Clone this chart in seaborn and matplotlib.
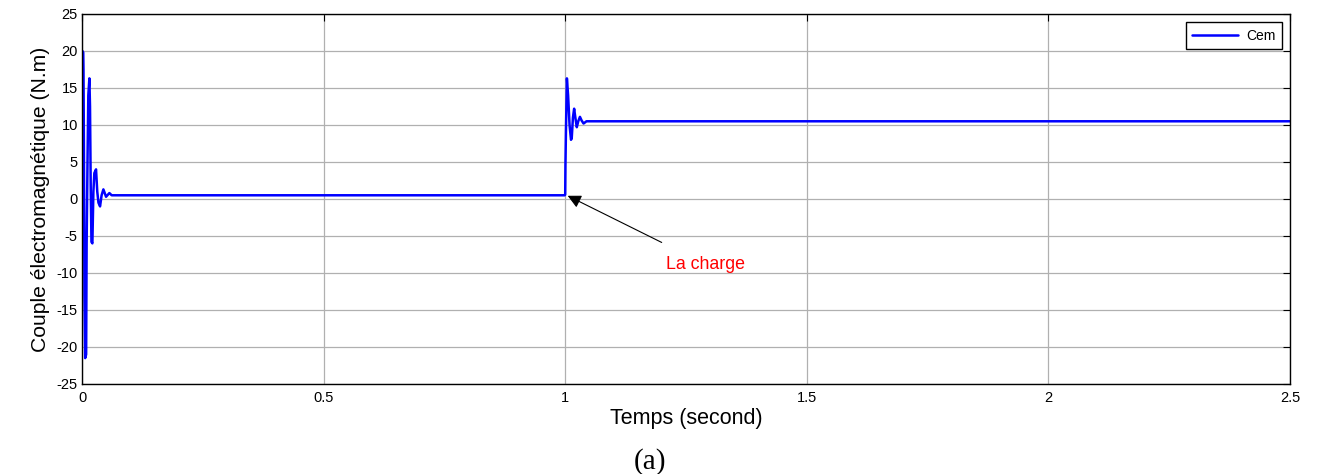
import matplotlib
matplotlib.use("Agg")
import matplotlib.pyplot as plt
import seaborn as sns
import pandas as pd

# electromagnetic torque (time in s, torque in N.m)
temps = [0.0, 0.0008, 0.0025, 0.003, 0.004, 0.005, 0.0065, 0.0085, 0.0095,
         0.0115, 0.013, 0.0152, 0.0165, 0.018, 0.0195, 0.0214, 0.0235, 0.0255,
         0.029, 0.0315, 0.034, 0.0373, 0.0405, 0.0442, 0.0497, 0.0566, 0.0614,
         0.999, 1.0, 1.0005, 1.0015, 1.0035, 1.006, 1.009, 1.012, 1.0135,
         1.016, 1.0185, 1.021, 1.024, 1.027, 1.0305, 1.034, 1.038, 1.044,
         1.05, 2.5]
cem = [0.0, 20.0, 19.8, 17.5, 6.0, -13.0, -21.5, -21.0, -6.0,
       6.0, 14.0, 16.3, 12.5, 1.5, -5.8, -6.0, 1.0, 3.5,
       4.0, 1.0, -0.5, -1.0, 0.5, 1.3, 0.3, 0.8, 0.5,
       0.5, 0.6, 4.6, 9.0, 16.3, 14.0, 10.0, 8.0, 8.2,
       11.0, 12.2, 11.0, 9.7, 10.5, 11.1, 10.6, 10.2, 10.5,
       10.5, 10.5]

df = pd.DataFrame({"Temps": temps, "Cem": cem})

sns.set_style("white")
plt.rcParams["font.family"] = ["Liberation Sans", "DejaVu Sans"]
plt.rcParams["axes.unicode_minus"] = False
plt.rcParams["text.color"] = "black"
plt.rcParams["axes.labelcolor"] = "black"

fig = plt.figure(figsize=(13.21, 4.74), dpi=100)
ax = fig.add_axes([0.0621, 0.1899, 0.9144, 0.7806])

sns.lineplot(data=df, x="Temps", y="Cem", ax=ax, color="#0000ff",
             linewidth=1.8, label="Cem", sort=False)

ax.set_xlim(0, 2.5)
ax.set_ylim(-25, 25)
ax.set_xticks([0, 0.5, 1, 1.5, 2, 2.5])
ax.set_xticklabels(["0", "0.5", "1", "1.5", "2", "2.5"])
ax.set_yticks(range(-25, 30, 5))
ax.grid(True, color="#b0b0b0", linewidth=0.9)
ax.tick_params(direction="in", length=5, width=0.8, top=True, right=True,
               labelsize=10.5, colors="black")
ax.tick_params(axis="x", pad=5)
ax.tick_params(axis="y", pad=3)
for s in ax.spines.values():
    s.set_color("black")
    s.set_linewidth(1.0)

ax.set_xlabel("Temps (second)", fontsize=15.5, labelpad=2)
ax.set_ylabel("Couple électromagnétique (N.m)", fontsize=15.2, labelpad=5)

ax.annotate("La charge", xy=(1.0, 0.6), xytext=(1.29, -8.8),
            color="red", fontsize=12.8, ha="center", va="center",
            arrowprops=dict(arrowstyle="-|>", color="black", lw=0.8,
                            shrinkA=16, mutation_scale=20))

leg = ax.legend(loc="upper right", fontsize=10, fancybox=False,
                edgecolor="black", framealpha=1, handlelength=3.3,
                handletextpad=0.6, borderaxespad=0.6, borderpad=0.45)
leg.get_frame().set_linewidth(1.0)

fig.text(0.492, 0.027, "(a)", ha="center", va="center", fontsize=21,
         family=["Liberation Serif", "DejaVu Serif"])

fig.savefig("out.png", dpi=100)
